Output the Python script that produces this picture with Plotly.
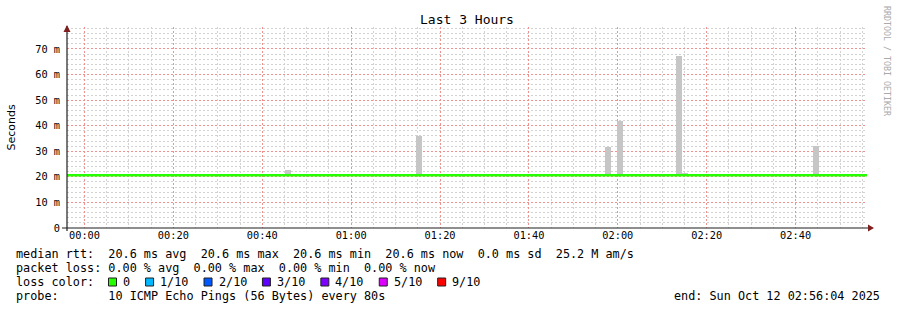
import datetime as dt
import plotly.graph_objects as go

# ---------------- data ----------------
title_text = "Last 3 Hours"
t_start = "2025-10-11 23:56:04"
t_end = "2025-10-12 02:56:04"

median_times = [t_start, t_end]
median_ms = [20.6, 20.6]

smoke_times = ["2025-10-12 00:45:46", "2025-10-12 01:15:16", "2025-10-12 01:57:46",
               "2025-10-12 02:00:28", "2025-10-12 02:01:52", "2025-10-12 02:13:52",
               "2025-10-12 02:15:07", "2025-10-12 02:44:34", "2025-10-12 02:45:58"]
smoke_max = [22.8, 36.1, 31.5, 41.7, 21.3, 67.1, 21.7, 32.2, 21.2]
smoke_min = [20.4] * len(smoke_times)

y_tickvals = [0, 10, 20, 30, 40, 50, 60, 70]
y_ticktext = ["0", "10 m", "20 m", "30 m", "40 m", "50 m", "60 m", "70 m"]

legend_rows = [
    "median rtt:  20.6 ms avg  20.6 ms max  20.6 ms min  20.6 ms now  0.0 ms sd  25.2 M am/s",
    "packet loss: 0.00 % avg  0.00 % max  0.00 % min  0.00 % now",
]
loss_labels = ["0", "1/10", "2/10", "3/10", "4/10", "5/10", "9/10"]
loss_colors = ["#26ff00", "#00b8ff", "#0059ff", "#5e00ff", "#7e00ff", "#dd00ff", "#ff0000"]
probe_text = "probe:       10 ICMP Echo Pings (56 Bytes) every 80s"
end_text = "end: Sun Oct 12 02:56:04 2025"
side_text = "RRDTOOL / TOBI OETIKER"

# ---------------- geometry ----------------
W, H = 897, 310
L, R, T, B = 67, 30, 27, 82
PW, PH = W - L - R, H - T - B
MONO = "DejaVu Sans Mono"
LEG_FS = 11.8
CW = 0.602 * LEG_FS  # char width of legend font
PAD = 2.5           # annotation inner padding compensation
Y_TOP = 78.6


def px(x):
    return (x - L) / PW


def py(y):
    return (T + PH - y) / PH


def nb(s):
    return s.replace(" ", "\u00a0")


# minor grid positions (excluding major positions)
t0 = dt.datetime(2025, 10, 11, 23, 55)
minor_x = []
for k in range(0, 40):
    t = t0 + dt.timedelta(minutes=5 * k)
    if t.minute % 20 != 0:
        minor_x.append(t.strftime("%Y-%m-%d %H:%M:%S"))
minor_y = [v for v in range(2, 80, 2) if v % 10 != 0]

fig = go.Figure()

# smoke bars
fig.add_trace(go.Bar(
    x=smoke_times,
    y=[a - b for a, b in zip(smoke_max, smoke_min)],
    base=smoke_min,
    width=80000,
    marker=dict(color="#c6c6c6", line=dict(width=0)),
    hoverinfo="skip",
))

# median line
fig.add_trace(go.Scatter(
    x=median_times, y=median_ms, mode="lines",
    line=dict(color="#26ff00", width=2.6, shape="hv"),
    hoverinfo="skip",
))

minor_grid = "#d2d2d2"
major_grid = "#f09090"

fig.update_layout(
    width=W, height=H,
    margin=dict(l=L, r=R, t=T, b=B, autoexpand=False),
    paper_bgcolor="white", plot_bgcolor="white",
    showlegend=False, bargap=0,
    font=dict(family=MONO, size=10.3, color="black"),
    title=dict(text=title_text, x=0.5, xref="paper", xanchor="center",
               y=1 - 19 / H, yanchor="middle",
               font=dict(family=MONO, size=13, color="black")),
    xaxis=dict(
        type="date", range=[t_start, t_end],
        tick0="2025-10-12 00:00:00", dtick=20 * 60 * 1000, tickformat="%H:%M",
        showgrid=True, gridcolor=major_grid, griddash="2px,2px", gridwidth=1,
        minor=dict(tickmode="array", tickvals=minor_x, showgrid=True, gridcolor=minor_grid,
                   griddash="2px,2px", gridwidth=1),
        ticks="", showline=False, zeroline=False,
        tickfont=dict(family=MONO, size=10.3, color="black"),
    ),
    yaxis=dict(
        range=[0, Y_TOP], tickvals=y_tickvals, ticktext=y_ticktext,
        showgrid=True, gridcolor=major_grid, griddash="2px,2px", gridwidth=1,
        minor=dict(tickmode="array", tickvals=minor_y, showgrid=True, gridcolor=minor_grid,
                   griddash="2px,2px", gridwidth=1),
        ticks="", showline=False, zeroline=False, ticklabelstandoff=6,
        tickfont=dict(family=MONO, size=10.3, color="black"),
        title=dict(text="Seconds", font=dict(family="DejaVu Sans", size=11, color="black"),
                   standoff=17),
    ),
)

shapes = []
axis_col = "#1f1f1f"
arrow_col = "#801f1f"
# axis lines
shapes.append(dict(type="line", xref="paper", yref="paper", x0=px(62), x1=px(869),
                   y0=0, y1=0, line=dict(color=axis_col, width=1.2), layer="above"))
shapes.append(dict(type="line", xref="paper", yref="paper", x0=0, x1=0,
                   y0=py(231), y1=py(26), line=dict(color=axis_col, width=1.2), layer="above"))
# arrows
shapes.append(dict(type="path", xref="paper", yref="paper", xsizemode="pixel", ysizemode="pixel",
                   xanchor=0, yanchor=1, path="M -3.5,-5 L 3.5,-5 L 0,2 Z",
                   fillcolor=arrow_col, line=dict(width=0), layer="above"))
shapes.append(dict(type="path", xref="paper", yref="paper", xsizemode="pixel", ysizemode="pixel",
                   xanchor=px(868), yanchor=0, path="M 0,-3.5 L 0,3.5 L 6,0 Z",
                   fillcolor=arrow_col, line=dict(width=0), layer="above"))

annotations = []
row_y = [254, 268, 282, 296]
leg_font = dict(family=MONO, size=LEG_FS, color="black")
for i, txt in enumerate(legend_rows):
    annotations.append(dict(text=nb(txt), xref="paper", yref="paper", x=px(16 - PAD), y=py(row_y[i]),
                            xanchor="left", yanchor="middle", showarrow=False, font=leg_font))
# loss colour row
annotations.append(dict(text=nb("loss color:"), xref="paper", yref="paper", x=px(16 - PAD),
                        y=py(row_y[2]), xanchor="left", yanchor="middle", showarrow=False,
                        font=leg_font))
sx = 108.5
for lab, col in zip(loss_labels, loss_colors):
    shapes.append(dict(type="rect", xref="paper", yref="paper",
                       x0=px(sx), x1=px(sx + 8), y0=py(row_y[2] + 4), y1=py(row_y[2] - 4),
                       fillcolor=col, line=dict(color="#202020", width=1), layer="above"))
    annotations.append(dict(text=lab, xref="paper", yref="paper", x=px(sx + 15 - PAD),
                            y=py(row_y[2]), xanchor="left", yanchor="middle", showarrow=False,
                            font=leg_font))
    sx = sx + 15 + len(lab) * CW + 15
annotations.append(dict(text=nb(probe_text), xref="paper", yref="paper", x=px(16 - PAD),
                        y=py(row_y[3]), xanchor="left", yanchor="middle", showarrow=False,
                        font=leg_font))
annotations.append(dict(text=nb(end_text), xref="paper", yref="paper", x=px(880 + PAD),
                        y=py(row_y[3]), xanchor="right", yanchor="middle", showarrow=False,
                        font=leg_font))
annotations.append(dict(text=nb(side_text), xref="paper", yref="paper", x=px(887), y=py(4),
                        xanchor="center", yanchor="top", textangle=90, showarrow=False,
                        font=dict(family=MONO, size=8.3, color="#aaaaaa")))

fig.update_layout(shapes=shapes, annotations=annotations)
fig.write_html("out.html")
